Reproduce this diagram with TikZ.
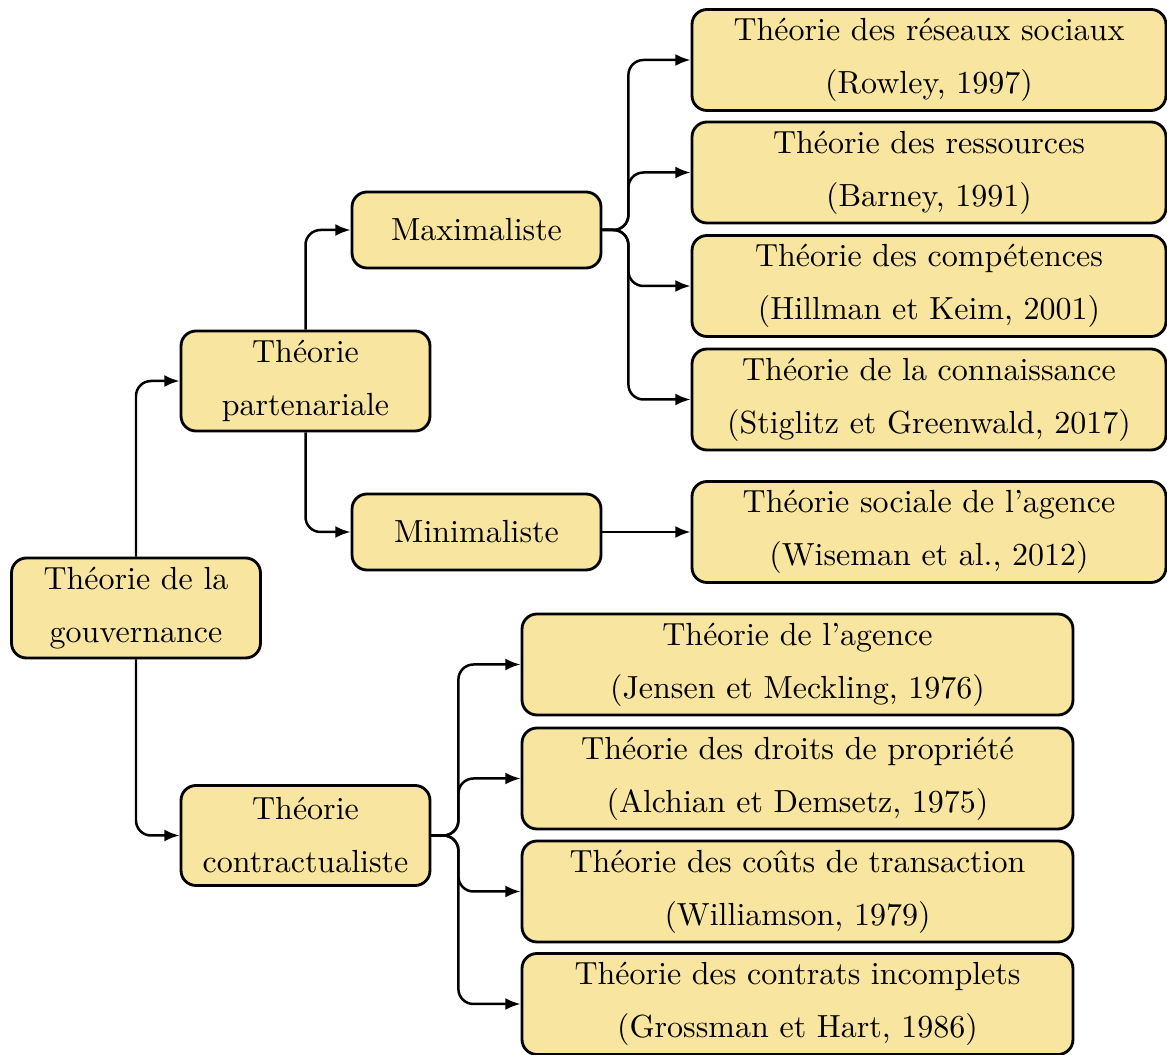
\documentclass[tikz,border=0pt]{standalone}
\usetikzlibrary{arrows.meta}
\definecolor{boxfill}{HTML}{F8E5A0}
\begin{document}
\begin{tikzpicture}[x=0.3pt,y=-0.3pt,
  box/.style={draw=black,line width=0.85pt,fill=boxfill,rounded corners=4.5pt,
    align=center,inner sep=0pt,font=\fontsize{9.6}{15.9}\selectfont},
  midbox/.style={box,minimum width=74.7pt,minimum height=30pt},
  smallbox/.style={box,minimum width=74.7pt,minimum height=22.8pt},
  rbox/.style={box,minimum width=142.2pt,minimum height=30.3pt},
  cbox/.style={box,minimum width=165.3pt,minimum height=30.3pt},
  conn/.style={line width=0.75pt,rounded corners=4.5pt,-{Latex[length=4.6pt,width=3.6pt]}}]
\useasboundingbox (0,0) rectangle (1167,1055);
\node[midbox] (root) at (136,608) {Théorie de la\\gouvernance};
\node[midbox] (part) at (305.5,381) {Théorie\\partenariale};
\node[midbox] (contr) at (305.5,835.5) {Théorie\\contractualiste};
\node[smallbox] (max) at (476.5,230) {Maximaliste};
\node[smallbox] (min) at (476.5,532) {Minimaliste};
\node[rbox] (r1) at (929,60) {Théorie des réseaux sociaux\\(Rowley, 1997)};
\node[rbox] (r2) at (929,172.5) {Théorie des ressources\\(Barney, 1991)};
\node[rbox] (r3) at (929,286) {Théorie des compétences\\(Hillman et Keim, 2001)};
\node[rbox] (r4) at (929,399.5) {Théorie de la connaissance\\(Stiglitz et Greenwald, 2017)};
\node[rbox] (r5) at (929,532) {Théorie sociale de l’agence\\(Wiseman et al., 2012)};
\node[cbox] (c1) at (797.5,664.5) {Théorie de l’agence\\(Jensen et Meckling, 1976)};
\node[cbox] (c2) at (797.5,778.5) {Théorie des droits de propriété\\(Alchian et Demsetz, 1975)};
\node[cbox] (c3) at (797.5,891.5) {Théorie des coûts de transaction\\(Williamson, 1979)};
\node[cbox] (c4) at (797.5,1004) {Théorie des contrats incomplets\\(Grossman et Hart, 1986)};
\draw[conn] (root.north) |- (part.west);
\draw[conn] (root.south) |- (contr.west);
\draw[conn] (part.north) |- (max.west);
\draw[conn] (part.south) |- (min.west);
\foreach \t in {r1,r2,r3,r4}
  \draw[conn] (max.east) -- ++(26,0) |- (\t.west);
\draw[conn] (min.east) -- (r5.west);
\foreach \t in {c1,c2,c3,c4}
  \draw[conn] (contr.east) -- ++(27,0) |- (\t.west);
\end{tikzpicture}
\end{document}
